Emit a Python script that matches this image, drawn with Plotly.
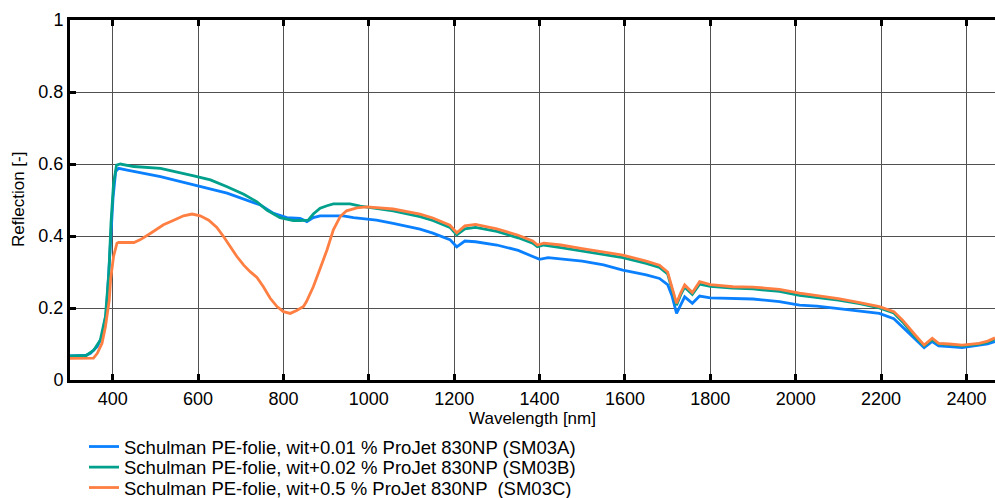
import plotly.graph_objects as go

# Wavelength [nm] / reflection [-] samples
wl_a = [300, 336, 348, 364, 375, 385, 393, 401, 407, 414, 434, 512, 590, 668, 746, 777, 808, 839, 855, 870,
        886, 940, 964, 1018, 1057, 1120, 1150, 1190, 1206, 1225, 1250, 1300, 1350, 1384, 1400, 1420, 1500,
        1550, 1595, 1650, 1681, 1700, 1710, 1721, 1730, 1740, 1758, 1775, 1800, 1853, 1900, 1962, 2009,
        2050, 2100, 2150, 2196, 2230, 2250, 2280, 2301, 2320, 2335, 2360, 2390, 2430, 2450, 2467]
refl_a = [0.067, 0.068, 0.074, 0.093, 0.12, 0.185, 0.343, 0.509, 0.579, 0.588, 0.583, 0.565, 0.542, 0.519,
          0.486, 0.463, 0.451, 0.449, 0.44, 0.451, 0.456, 0.456, 0.451, 0.444, 0.435, 0.419, 0.408, 0.39,
          0.37, 0.386, 0.384, 0.375, 0.36, 0.344, 0.335, 0.34, 0.33, 0.32, 0.305, 0.292, 0.282, 0.265, 0.235,
          0.185, 0.205, 0.231, 0.213, 0.233, 0.228, 0.227, 0.225, 0.218, 0.208, 0.205, 0.198, 0.192, 0.185,
          0.17, 0.148, 0.115, 0.09, 0.107, 0.095, 0.093, 0.09, 0.097, 0.1, 0.107]

wl_b = [300, 338, 356, 371, 383, 391, 396, 402, 409, 418, 449, 512, 590, 629, 668, 707, 738, 761, 792, 823,
        839, 858, 870, 886, 902, 917, 956, 980, 1057, 1120, 1150, 1190, 1206, 1225, 1250, 1300, 1350, 1384,
        1395, 1410, 1450, 1500, 1550, 1595, 1650, 1681, 1700, 1710, 1721, 1730, 1740, 1758, 1775, 1800,
        1853, 1900, 1962, 2009, 2050, 2100, 2150, 2196, 2230, 2250, 2280, 2301, 2320, 2335, 2360, 2390,
        2430, 2450, 2467]
refl_b = [0.067, 0.068, 0.083, 0.111, 0.176, 0.296, 0.435, 0.546, 0.597, 0.6, 0.593, 0.588, 0.567, 0.556,
          0.537, 0.516, 0.495, 0.472, 0.451, 0.443, 0.443, 0.444, 0.461, 0.477, 0.484, 0.489, 0.489, 0.483,
          0.47, 0.454, 0.443, 0.424, 0.403, 0.42, 0.424, 0.413, 0.395, 0.38, 0.37, 0.375, 0.368, 0.358,
          0.348, 0.34, 0.324, 0.313, 0.295, 0.255, 0.208, 0.235, 0.258, 0.238, 0.266, 0.26, 0.255, 0.253,
          0.246, 0.235, 0.23, 0.222, 0.212, 0.2, 0.186, 0.162, 0.12, 0.095, 0.113, 0.1, 0.098, 0.095, 0.1,
          0.105, 0.114]

wl_c = [300, 355, 364, 375, 383, 392, 395, 402, 410, 414, 450, 465, 488, 519, 543, 566, 586, 605, 625,
        644, 660, 675, 691, 707, 722, 738, 753, 769, 785, 800, 816, 831, 847, 854, 870, 886, 902, 917, 933,
        948, 972, 995, 1057, 1120, 1150, 1190, 1206, 1225, 1250, 1300, 1350, 1384, 1395, 1410, 1450, 1500,
        1550, 1595, 1650, 1681, 1700, 1710, 1721, 1730, 1740, 1758, 1775, 1800, 1853, 1900, 1962, 2009,
        2050, 2100, 2150, 2196, 2230, 2250, 2280, 2301, 2320, 2335, 2360, 2390, 2430, 2450, 2467]
refl_c = [0.06, 0.061, 0.074, 0.102, 0.148, 0.222, 0.278, 0.343, 0.38, 0.382, 0.382, 0.39, 0.407, 0.431,
          0.444, 0.456, 0.461, 0.456, 0.444, 0.424, 0.398, 0.37, 0.343, 0.319, 0.301, 0.285, 0.259, 0.227,
          0.204, 0.19, 0.185, 0.193, 0.204, 0.218, 0.259, 0.31, 0.361, 0.417, 0.454, 0.47, 0.478, 0.481,
          0.475, 0.461, 0.45, 0.43, 0.409, 0.428, 0.432, 0.42, 0.402, 0.386, 0.375, 0.38, 0.375, 0.365,
          0.355, 0.347, 0.33, 0.319, 0.3, 0.26, 0.213, 0.24, 0.264, 0.243, 0.273, 0.265, 0.259, 0.258,
          0.252, 0.241, 0.235, 0.226, 0.215, 0.204, 0.19, 0.167, 0.125, 0.097, 0.116, 0.102, 0.1, 0.097,
          0.102, 0.108, 0.117]

names = [
    "Schulman PE-folie, wit+0.01 % ProJet 830NP (SM03A)",
    "Schulman PE-folie, wit+0.02 % ProJet 830NP (SM03B)",
    "Schulman PE-folie, wit+0.5 % ProJet 830NP  (SM03C)",
]
colors = ["#0a80ff", "#00a08c", "#ff7f42"]

x_ticks = [400, 600, 800, 1000, 1200, 1400, 1600, 1800, 2000, 2200, 2400]
y_ticks = [0, 0.2, 0.4, 0.6, 0.8, 1]
y_labels = ["0", "0.2", "0.4", "0.6", "0.8", "1"]
x_title = "Wavelength [nm]"
y_title = "Reflection [-]"

W, H = 995, 498
ML, MR, MT, MB = 70, 0, 20, 118
legend_ids = ["legend", "legend2", "legend3"]
legend_rows_px = [447, 467.5, 488]

fig = go.Figure()
for wl, refl, name, col, lid in zip([wl_a, wl_b, wl_c], [refl_a, refl_b, refl_c], names, colors, legend_ids):
    fig.add_trace(go.Scatter(x=wl, y=refl, mode="lines", name=name, legend=lid,
                             line=dict(color=col, width=2.8)))

font = dict(family="Liberation Sans, Arial, sans-serif", size=18, color="#000000")
legend_common = dict(xref="container", yref="container", xanchor="left", yanchor="middle",
                     x=84 / W, bgcolor="rgba(0,0,0,0)", borderwidth=0,
                     font=dict(size=18.5), itemwidth=30)
layout_legends = {}
for lid, ypx in zip(legend_ids, legend_rows_px):
    d = dict(legend_common)
    d["y"] = (H - ypx) / H
    layout_legends[lid] = d

fig.update_layout(
    width=W, height=H,
    margin=dict(l=ML, r=MR, t=MT, b=MB, autoexpand=False),
    paper_bgcolor="white", plot_bgcolor="white",
    font=font,
    showlegend=True,
    xaxis=dict(range=[300, 2467], tickvals=x_ticks, ticks="inside", ticklen=6, tickwidth=2.5,
               tickcolor="black", showline=True, linecolor="black", linewidth=3, mirror="ticks",
               showgrid=True, gridcolor="#505050", gridwidth=1, zeroline=False,
               tickfont=dict(size=18),
               title=dict(text=x_title, standoff=4, font=dict(size=17))),
    yaxis=dict(range=[0, 1], tickvals=y_ticks, ticktext=y_labels, ticks="inside", ticklen=6,
               tickwidth=2.5, tickcolor="black", showline=True, linecolor="black", linewidth=3,
               showgrid=True, gridcolor="#505050", gridwidth=1, zeroline=False,
               tickfont=dict(size=18)),
    annotations=[dict(text=y_title, textangle=-90, xref="paper", yref="paper",
                      x=(18 - ML) / (W - ML - MR), y=0.5, xanchor="center", yanchor="middle",
                      showarrow=False, font=dict(size=17))],
    **layout_legends,
)
fig.write_html("out.html", config={"displayModeBar": False},
               post_script="document.body.style.margin='0';document.body.style.overflow='hidden';")
